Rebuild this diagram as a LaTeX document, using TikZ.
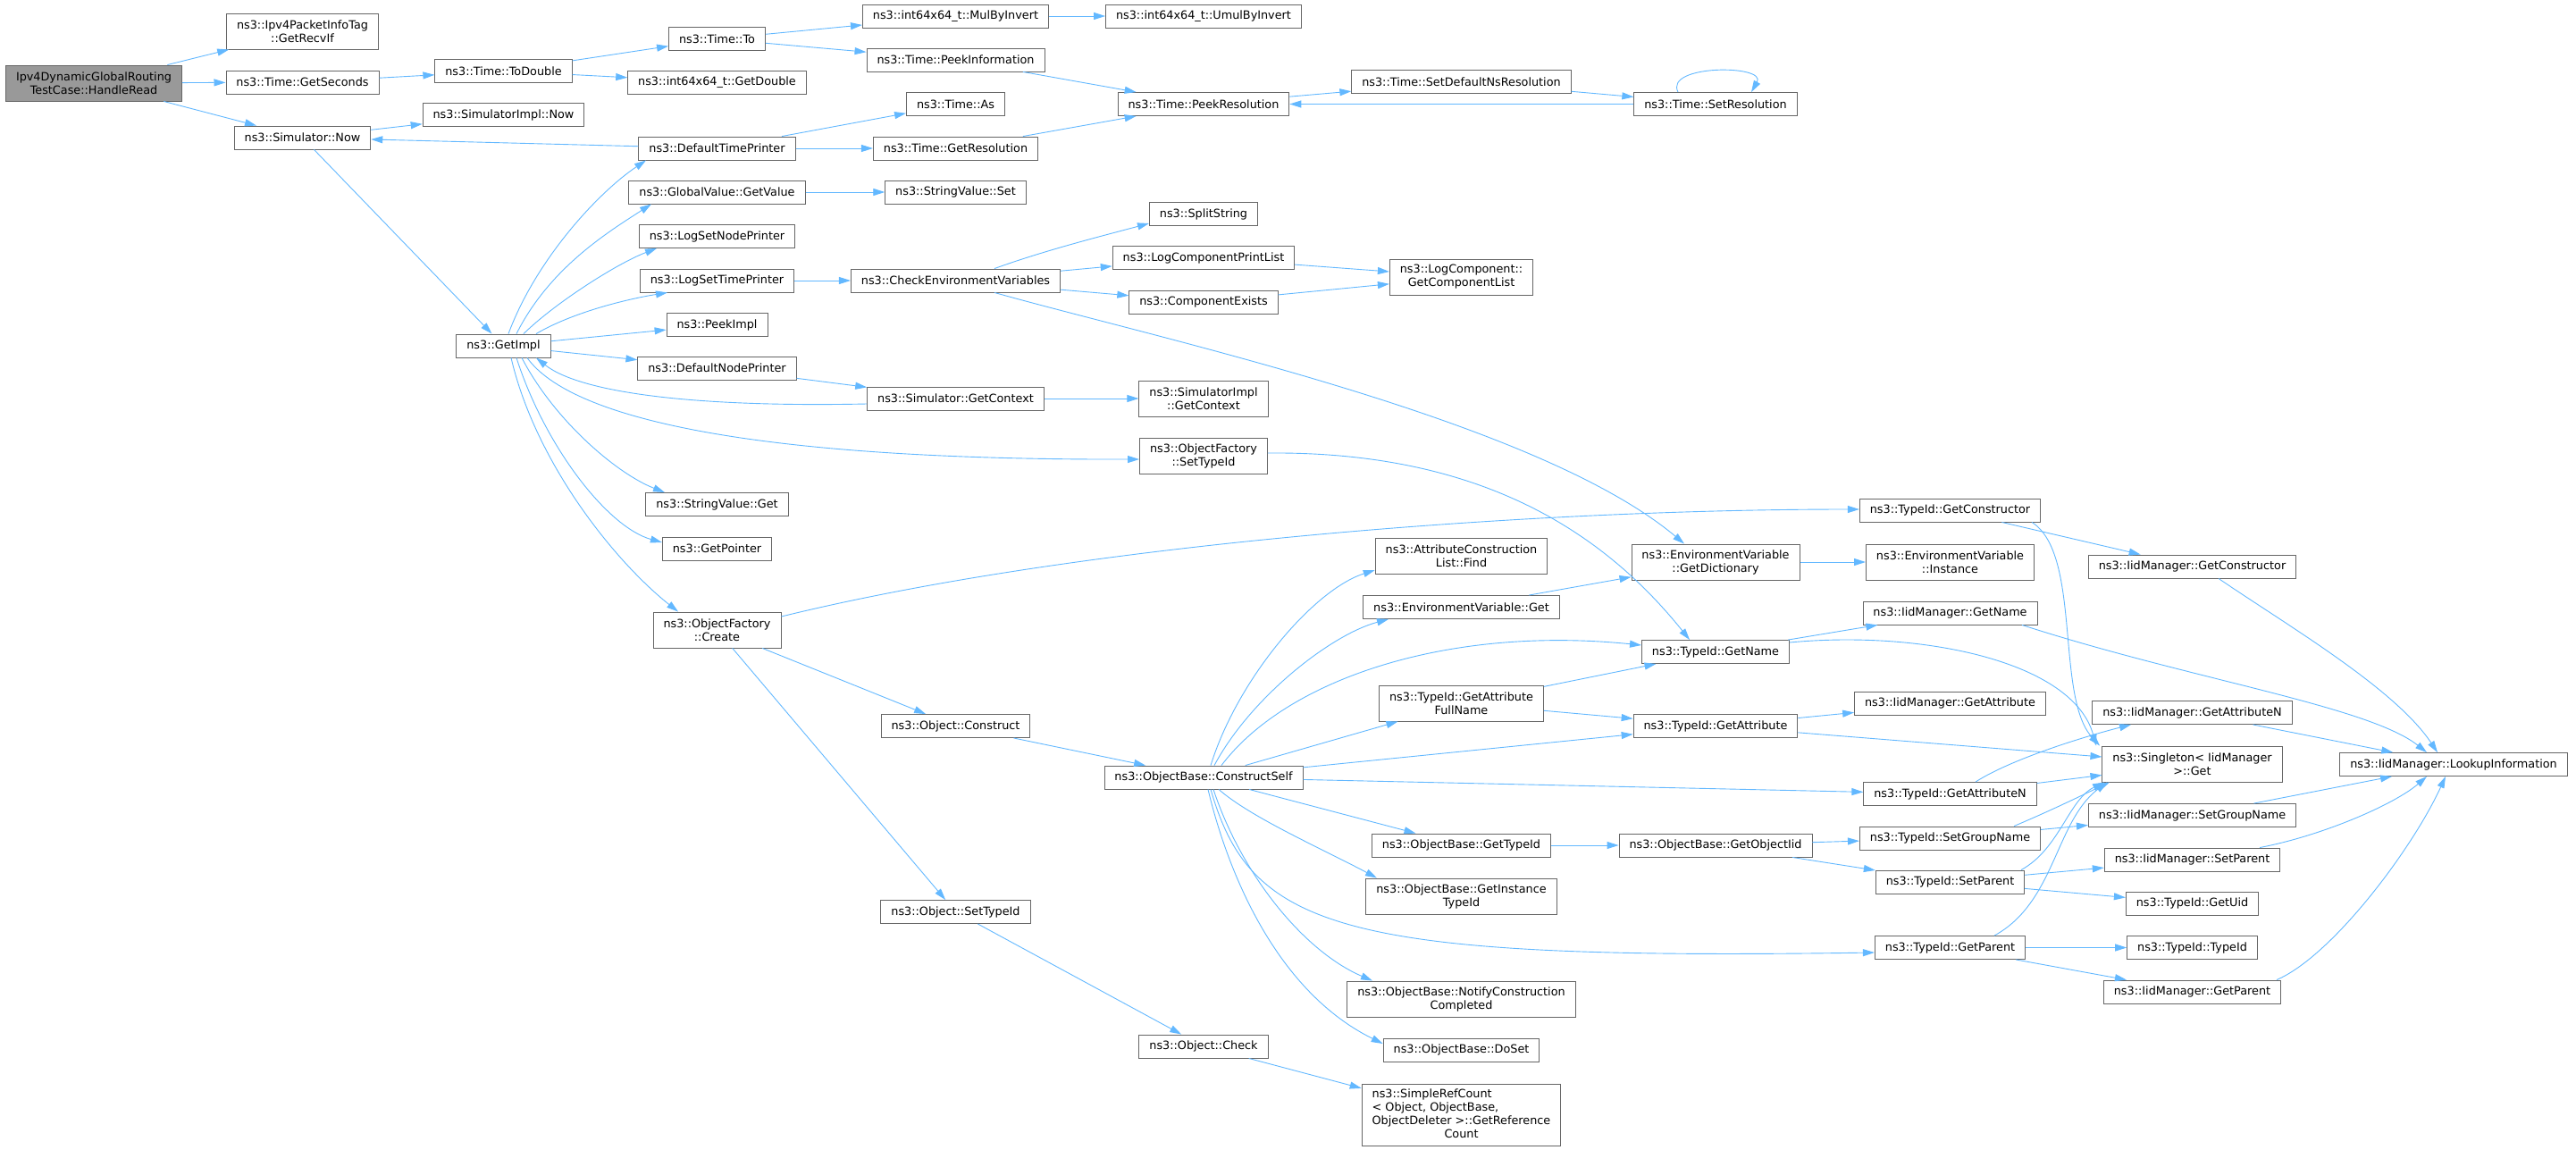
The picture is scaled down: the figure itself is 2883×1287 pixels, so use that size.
\documentclass[tikz,border=0pt]{standalone}
\usepackage{fontspec}
\setmainfont{DejaVu Sans}
\usetikzlibrary{arrows.meta}
\definecolor{edgec}{HTML}{63B8FF}
\definecolor{boxc}{HTML}{666666}
\definecolor{rootc}{HTML}{999999}
\tikzset{
  fn/.style={draw=boxc, line width=0.9pt, fill=white, inner xsep=11.5pt, inner ysep=0pt, minimum height=26pt, align=center},
  fntwo/.style={fn, minimum height=40pt},
  fnfour/.style={fn, minimum height=69pt},
  rootnode/.style={fntwo, fill=rootc},
  call/.style={draw=edgec, line width=0.9pt, -{Triangle[length=13pt,width=8pt]}},
}
\newcommand\nd[5][fn]{\node[#1] (#2) at (#3,#4) {#5};}
\begin{document}
\begin{tikzpicture}[x=1pt,y=-1pt,font=\fontsize{12.8}{15}\selectfont]
\useasboundingbox (0,0) rectangle (2883,1287);
% column 0-3
\nd[rootnode]{HR}{105}{93}{Ipv4DynamicGlobalRouting\\TestCase::HandleRead}
\nd[fntwo]{RI}{338.5}{35}{ns3::Ipv4PacketInfoTag\\::GetRecvIf}
\nd{GS}{338.5}{92}{ns3::Time::GetSeconds}
\nd{SN}{338.5}{154}{ns3::Simulator::Now}
\nd{TD}{563.5}{79.5}{ns3::Time::ToDouble}
\nd{SIN}{563.5}{128.5}{ns3::SimulatorImpl::Now}
\nd{GI}{563.5}{387}{ns3::GetImpl}
\nd{TO}{802.5}{43.5}{ns3::Time::To}
\nd{GD}{802.5}{92}{ns3::int64x64\_t::GetDouble}
\nd{DTP}{802.5}{166}{ns3::DefaultTimePrinter}
\nd{GV}{802.5}{215}{ns3::GlobalValue::GetValue}
\nd{LSNP}{802.5}{264.5}{ns3::LogSetNodePrinter}
\nd{LSTP}{802.5}{314}{ns3::LogSetTimePrinter}
\nd{PI}{802.5}{363.5}{ns3::PeekImpl}
\nd{DNP}{802.5}{412}{ns3::DefaultNodePrinter}
\nd{SVG}{802.5}{564.5}{ns3::StringValue::Get}
\nd{GP}{802.5}{614}{ns3::GetPointer}
\nd[fntwo]{CR}{802.5}{705}{ns3::ObjectFactory\\::Create}
% column 4
\nd{MBI}{1069.5}{18}{ns3::int64x64\_t::MulByInvert}
\nd{PIN}{1069.5}{67}{ns3::Time::PeekInformation}
\nd{AS}{1069.5}{116.5}{ns3::Time::As}
\nd{GR}{1069.5}{166}{ns3::Time::GetResolution}
\nd{SVS}{1069.5}{215}{ns3::StringValue::Set}
\nd{CEV}{1069.5}{314}{ns3::CheckEnvironmentVariables}
\nd{SGC}{1069.5}{446}{ns3::Simulator::GetContext}
\nd{OC}{1069.5}{812.5}{ns3::Object::Construct}
\nd{OST}{1069.5}{1020.5}{ns3::Object::SetTypeId}
% column 5
\nd{UBI}{1347}{18}{ns3::int64x64\_t::UmulByInvert}
\nd{PR}{1347}{116.5}{ns3::Time::PeekResolution}
\nd{SS}{1347}{239.5}{ns3::SplitString}
\nd{LCPL}{1347}{288.5}{ns3::LogComponentPrintList}
\nd{CE}{1347}{338}{ns3::ComponentExists}
\nd[fntwo]{SIGC}{1347}{446}{ns3::SimulatorImpl\\::GetContext}
\nd[fntwo]{STI}{1347}{510}{ns3::ObjectFactory\\::SetTypeId}
\nd{CS}{1347}{870}{ns3::ObjectBase::ConstructSelf}
\nd{OCK}{1347}{1171}{ns3::Object::Check}
% column 6
\nd{SDNR}{1635.5}{91.5}{ns3::Time::SetDefaultNsResolution}
\nd[fntwo]{GCL}{1635.5}{310}{ns3::LogComponent::\\GetComponentList}
\nd[fntwo]{FIND}{1635.5}{622}{ns3::AttributeConstruction\\List::Find}
\nd{EVG}{1635.5}{679.5}{ns3::EnvironmentVariable::Get}
\nd[fntwo]{GAFN}{1635.5}{787}{ns3::TypeId::GetAttribute\\FullName}
\nd{OGT}{1635.5}{946}{ns3::ObjectBase::GetTypeId}
\nd[fntwo]{GIT}{1635.5}{1003}{ns3::ObjectBase::GetInstance\\TypeId}
\nd[fntwo]{NCC}{1635.5}{1118}{ns3::ObjectBase::NotifyConstruction\\Completed}
\nd{DS}{1635.5}{1175}{ns3::ObjectBase::DoSet}
\nd[fnfour]{SRC}{1635.5}{1247.5}{\begin{tabular}{@{}l@{}}ns3::SimpleRefCount\\< Object, ObjectBase,\\ ObjectDeleter >::GetReference\\\multicolumn{1}{@{}c@{}}{Count}\end{tabular}}
% column 7
\nd{SR}{1920}{116.5}{ns3::Time::SetResolution}
\nd[fntwo]{GDI}{1920}{629}{ns3::EnvironmentVariable\\::GetDictionary}
\nd{TGN}{1920}{729.5}{ns3::TypeId::GetName}
\nd{TGA}{1920}{812.5}{ns3::TypeId::GetAttribute}
\nd{GOI}{1920}{946}{ns3::ObjectBase::GetObjectIid}
% column 8
\nd{TGC}{2182.5}{571}{ns3::TypeId::GetConstructor}
\nd[fntwo]{EVI}{2182.5}{629}{ns3::EnvironmentVariable\\::Instance}
\nd{IGN}{2182.5}{686}{ns3::IidManager::GetName}
\nd{IGA}{2182.5}{787}{ns3::IidManager::GetAttribute}
\nd{TGAN}{2182.5}{888.5}{ns3::TypeId::GetAttributeN}
\nd{TSGN}{2182.5}{938}{ns3::TypeId::SetGroupName}
\nd{TSP}{2182.5}{987}{ns3::TypeId::SetParent}
\nd{TGP}{2182.5}{1060.5}{ns3::TypeId::GetParent}
% column 9
\nd{IGC}{2453.5}{634}{ns3::IidManager::GetConstructor}
\nd{IGAN}{2453.5}{797.5}{ns3::IidManager::GetAttributeN}
\nd[fntwo]{SG}{2453.5}{855}{ns3::Singleton< IidManager\\>::Get}
\nd{ISGN}{2453.5}{912.5}{ns3::IidManager::SetGroupName}
\nd{ISP}{2453.5}{962}{ns3::IidManager::SetParent}
\nd{TGU}{2453.5}{1011}{ns3::TypeId::GetUid}
\nd{TTI}{2453.5}{1060.5}{ns3::TypeId::TypeId}
\nd{IGP}{2453.5}{1110}{ns3::IidManager::GetParent}
% column 10
\nd{LI}{2746}{855.5}{ns3::IidManager::LookupInformation}

% straight connectors
\foreach \a/\b in {HR/RI,HR/GS,HR/SN,GS/TD,TD/TO,TD/GD,TO/MBI,TO/PIN,MBI/UBI,PIN/PR,PR/SDNR,SDNR/SR,SR/PR,
  SN/SIN,SN/GI,DTP/SN,DTP/AS,DTP/GR,GR/PR,GI/PI,GI/DNP,DNP/SGC,GV/SVS,LSTP/CEV,CEV/LCPL,CEV/CE,LCPL/GCL,CE/GCL,
  SGC/SIGC,CR/OC,CR/OST,GDI/EVI,EVG/GDI,TGC/IGC,TGN/IGN,GAFN/TGN,GAFN/TGA,TGA/IGA,TGA/SG,IGAN/LI,TGAN/SG,
  OC/CS,CS/GAFN,CS/TGA,CS/TGAN,CS/OGT,OGT/GOI,GOI/TSGN,GOI/TSP,TSGN/ISGN,ISGN/LI,TSP/ISP,TSP/TGU,TGP/TTI,TGP/IGP,
  OST/OCK,OCK/SRC}
  \draw[call] (\a) -- (\b);

% curved connectors
\draw[call] (SR.north -| 1878,0) .. controls (1862,72) and (1978,72) .. (SR.north -| 1960,0);
\draw[call] (GI.north -| 569,0) .. controls (600,290) and (670,215) .. (DTP.south -| 723,0);
\draw[call] (GI.north -| 578,0) .. controls (615,300) and (680,260) .. (GV.south -| 729,0);
\draw[call] (GI.north -| 586,0) .. controls (620,340) and (690,295) .. (LSNP.south -| 735,0);
\draw[call] (GI.north -| 600,0) .. controls (640,350) and (700,335) .. (LSTP.south -| 747,0);
\draw[call] (GI.south -| 584,0) .. controls (620,470) and (690,530) .. (SVG.north -| 744,0);
\draw[call] (GI.south -| 578,0) .. controls (610,500) and (680,590) .. (GP.west |- 0,607);
\draw[call] (GI.south -| 572,0) .. controls (600,520) and (690,630) .. (CR.north -| 759,0);
\draw[call] (GI.south -| 590,0) .. controls (640,470) and (850,515) .. (STI.west |- 0,514);
\draw[call] (SGC.west |- 0,452) .. controls (780,456) and (650,440) .. (GI.south -| 600,0);
\draw[call] (CEV.north -| 1113,0) .. controls (1170,280) and (1230,265) .. (SS.west |- 0,250);
\draw[call] (CEV.south -| 1113,0) .. controls (1300,380) and (1720,470) .. (GDI.north -| 1885,0);
\draw[call] (STI.east |- 0,507) .. controls (1650,505) and (1790,590) .. (TGN.north -| 1891,0);
\draw[call] (CR.east |- 0,690) .. controls (1200,610) and (1700,570) .. (TGC.west |- 0,570);
\draw[call] (TGC.south -| 2274,0) .. controls (2330,620) and (2300,780) .. (SG.north -| 2350,0);
\draw[call] (IGC.south -| 2483,0) .. controls (2560,700) and (2680,770) .. (LI.north -| 2728,0);
\draw[call] (TGN.east |- 0,719) .. controls (2150,705) and (2320,740) .. (SG.north -| 2346,0);
\draw[call] (IGN.south -| 2263,0) .. controls (2450,760) and (2650,790) .. (LI.north -| 2716,0);
\draw[call] (TGAN.north -| 2211,0) .. controls (2250,850) and (2330,825) .. (IGAN.south -| 2385,0);
\draw[call] (CS.north -| 1355,0) .. controls (1385,760) and (1470,660) .. (FIND.west |- 0,638);
\draw[call] (CS.north -| 1359,0) .. controls (1400,780) and (1490,710) .. (EVG.south -| 1554,0);
\draw[call] (CS.north -| 1367,0) .. controls (1440,760) and (1620,700) .. (TGN.west |- 0,722);
\draw[call] (CS.south -| 1364,0) .. controls (1400,915) and (1480,950) .. (GIT.north -| 1541,0);
\draw[call] (CS.south -| 1355,0) .. controls (1400,1040) and (1500,1075) .. (TGP.west |- 0,1066);
\draw[call] (CS.south -| 1358,0) .. controls (1390,980) and (1460,1065) .. (NCC.north -| 1536,0);
\draw[call] (CS.south -| 1352,0) .. controls (1375,980) and (1430,1110) .. (DS.west |- 0,1168);
\draw[call] (TSGN.north -| 2254,0) .. controls (2300,905) and (2330,890) .. (SG.south -| 2361,0);
\draw[call] (TSP.north -| 2262,0) .. controls (2305,950) and (2315,895) .. (SG.south -| 2355,0);
\draw[call] (TGP.north -| 2232,0) .. controls (2300,1010) and (2300,920) .. (SG.south -| 2358,0);
\draw[call] (ISP.north -| 2529,0) .. controls (2600,935) and (2680,900) .. (LI.south -| 2716,0);
\draw[call] (IGP.north -| 2548,0) .. controls (2610,1070) and (2700,950) .. (LI.south -| 2737,0);
\end{tikzpicture}
\end{document}
